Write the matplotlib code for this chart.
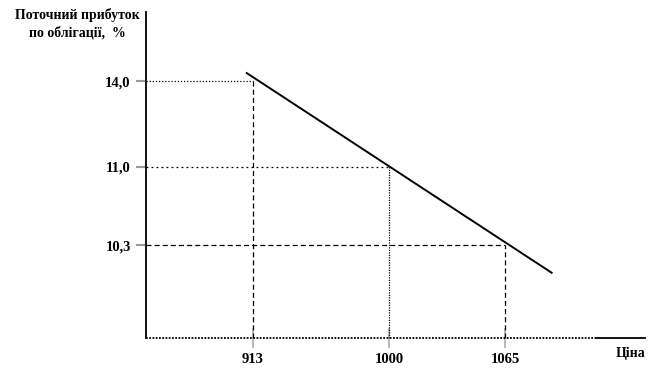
import numpy as np
import matplotlib
matplotlib.use("Agg")
import matplotlib.pyplot as plt

# values
prices = [913, 1000, 1065]
yields = [14.0, 11.0, 10.3]
price_labels = ["913", "1000", "1065"]
yield_labels = ["14,0", "11,0", "10,3"]
# the drawn line runs a little past the marked points
line_price = [909, 1091]
line_yield = [14.28, 10.05]

# schematic (non-linear) axes: knots value -> axes fraction
x_knots = [844.5, 913, 1000, 1065, 1143]
x_frac = [0.0, 0.2144, 0.4870, 0.7194, 1.0]
y_knots = [9.46, 10.3, 11.0, 14.0, 16.4]
y_frac = [0.0, 0.285, 0.525, 0.788, 1.0]


def fwd(k, f):
    return lambda v: np.interp(v, k, f, left=-1e3, right=1e3)


def inv(k, f):
    return lambda v: np.interp(v, f, k)


plt.rcParams['font.family'] = ['Liberation Serif', 'DejaVu Serif']
plt.rcParams['font.weight'] = 'bold'
plt.rcParams['font.size'] = 10

fig = plt.figure(figsize=(6.67, 3.78), dpi=100)
ax = fig.add_axes([146 / 667, 40 / 378, 499 / 667, 326 / 378])
ax.set_xscale('function', functions=(fwd(x_knots, x_frac), inv(x_knots, x_frac)))
ax.set_yscale('function', functions=(fwd(y_knots, y_frac), inv(y_knots, y_frac)))
ax.set_xlim(x_knots[0], x_knots[-1])
ax.set_ylim(y_knots[0], y_knots[-1])

for s in ['top', 'right', 'bottom']:
    ax.spines[s].set_visible(False)
ax.spines['left'].set_linewidth(1.3)

# x axis: dotted then solid end
ax.plot([0, 0.904], [0, 0], transform=ax.transAxes, color='black', lw=1.3,
        ls=(0, (1, 0.8)), clip_on=False)
ax.plot([0.904, 1.0], [0, 0], transform=ax.transAxes, color='black', lw=1.3,
        clip_on=False)

# guide lines
h_styles = [(0, (1, 1.5)), (0, (1.5, 2.5)), (0, (4, 2.5))]
v_styles = [(0, (4, 2.5)), (0, (1, 1)), (0, (4, 2.5))]
for p, y, hs, vs in zip(prices, yields, h_styles, v_styles):
    ax.plot([x_knots[0], p], [y, y], color='black', lw=0.9, ls=hs)
    ax.plot([p, p], [y_knots[0], y], color='black', lw=0.9, ls=vs)

ax.plot(line_price, line_yield, color='black', lw=1.4)

ax.set_xticks(prices)
ax.set_xticklabels(price_labels)
ax.set_yticks(yields)
ax.set_yticklabels(yield_labels)
ax.minorticks_off()
ax.tick_params(axis='y', direction='out', length=7, width=1.5, color='#999999', pad=4,
               labelsize=10.5)
ax.tick_params(axis='x', direction='inout', length=14, width=1.2, color='#aaaaaa', pad=4,
               labelsize=10.5)

fig.text(77 / 667, 1 - 15 / 378, "Поточний прибуток", ha='center', va='center')
fig.text(77 / 667, 1 - 33 / 378, "по облігації,  %", ha='center', va='center')
fig.text(645 / 667, 1 - 353 / 378, "Ціна", ha='right', va='center')

fig.savefig("out.png", dpi=100)
